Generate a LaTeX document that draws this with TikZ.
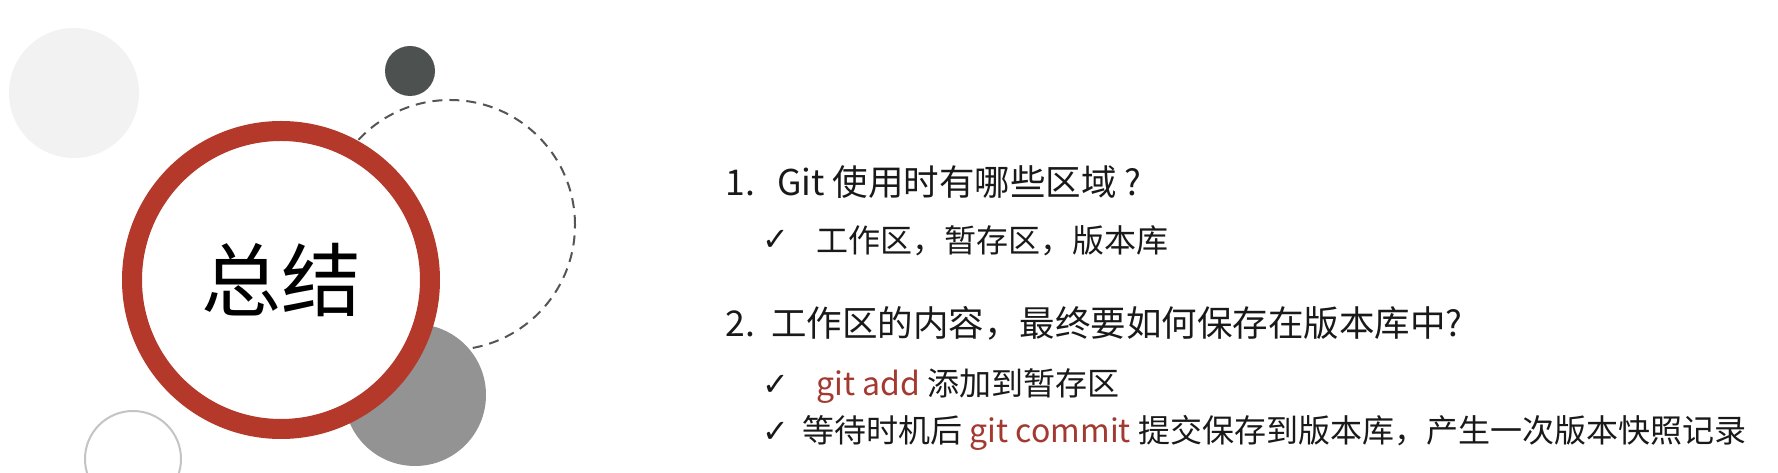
\documentclass[tikz,border=0pt]{standalone}
\usepackage{fontspec}
\setmainfont{Noto Sans CJK SC}
\newfontfamily\tickfont{DejaVu Sans}
\definecolor{ringred}{HTML}{B5392A}
\definecolor{cmdred}{HTML}{A33A31}
\definecolor{palegray}{HTML}{F2F2F2}
\definecolor{darkdot}{HTML}{4D5250}
\definecolor{midgray}{HTML}{939393}
\definecolor{linegray}{HTML}{C4C4C4}
\definecolor{dashgray}{HTML}{555555}
\newcommand{\cmd}[1]{\textcolor{cmdred}{#1}}

\begin{document}
\begin{tikzpicture}[x=1pt, y=1pt,
  blob/.style={circle, inner sep=0pt, minimum size=#1},
  head/.style={anchor=west, text=black!90, font=\fontsize{35.5}{40}\selectfont},
  item/.style={anchor=west, text=black!90, font=\fontsize{32}{36}\selectfont},
  tick/.style={anchor=center, text=black!90, font=\tickfont\fontsize{32}{36}\selectfont}]
  \useasboundingbox (0,0) rectangle (1778,473);
  \fill[white] (0,0) rectangle (1778,473);

  \node[blob=130pt, fill=palegray] (pale) at (74,380) {};
  \node[blob=50pt, fill=darkdot] (dark) at (410,402) {};
  \node[blob=250pt, draw=dashgray, line width=2pt, dash pattern=on 10pt off 7pt] (dash) at (450,248) {};
  \node[blob=142pt, fill=midgray] (mid) at (415,78) {};
  \node[blob=96pt, draw=linegray, line width=2pt] (ring) at (133,14) {};
  \node[blob=298pt, draw=ringred, fill=white, line width=20pt,
        font=\fontsize{80}{90}\selectfont] (sum) at (281,193) {总结};

  \node[head] (q1) at (722,291) {1.\hspace{22pt}Git 使用时有哪些区域 ?};
  \node[tick] (t1) at (776,233) {✓};
  \node[item] (a1) at (813,232) {工作区，暂存区，版本库};

  \node[head] (q2) at (722,150) {2.\hspace{16pt}工作区的内容，最终要如何保存在版本库中?};
  \node[tick] (t2) at (776,88) {✓};
  \node[item] (a2) at (813,87) {\cmd{git add} 添加到暂存区};
  \node[tick] (t3) at (776,41) {✓};
  \node[item] (a3) at (799,40) {等待时机后 \cmd{git commit} 提交保存到版本库，产生一次版本快照记录};
\end{tikzpicture}
\end{document}
